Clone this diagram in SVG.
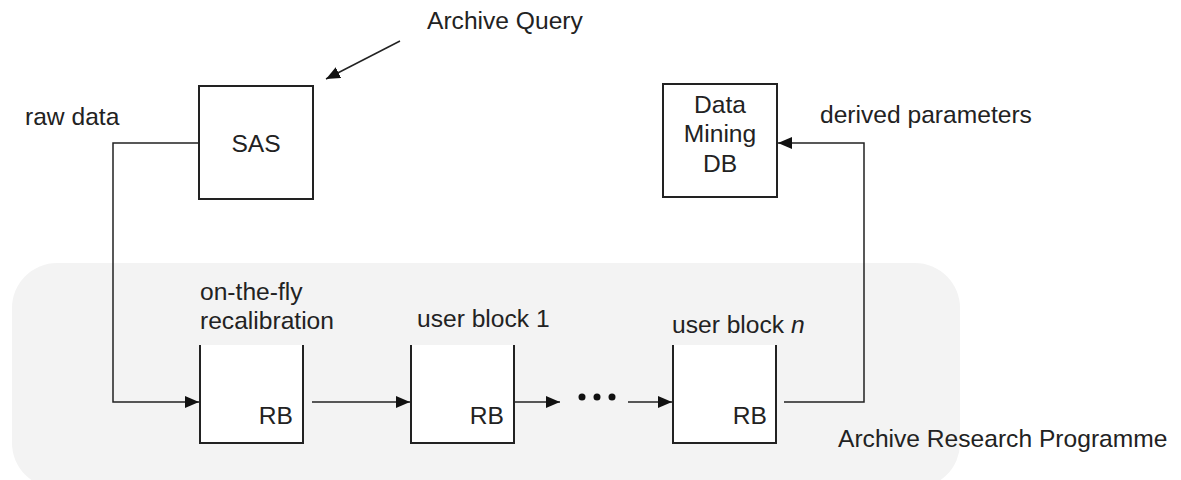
<svg xmlns="http://www.w3.org/2000/svg" width="1181" height="480" viewBox="0 0 1181 480">
<style>
  text { font-family: "Liberation Sans", Arial, sans-serif; font-size: 24.6px; fill: #222; }
  .box { fill: #fff; stroke: #222; stroke-width: 2; }
  .rb { fill: none; stroke: #222; stroke-width: 2; }
  .conn { fill: none; stroke: #222; stroke-width: 1.5; marker-end: url(#arrow); }
</style>
<defs>
  <marker id="arrow" markerUnits="userSpaceOnUse" markerWidth="14" markerHeight="12" refX="14" refY="6" orient="auto">
    <path d="M0,0 L14,6 L0,12 z" fill="#111"/>
  </marker>
</defs>
<g id="archive-research-programme">
  <rect x="12" y="263" width="948" height="225" rx="45" ry="45" fill="#f3f3f3"/>
  <text x="838" y="447">Archive Research Programme</text>
</g>
<g id="connectors">
  <path class="conn" d="M400,41 L326,79"/>
  <path class="conn" d="M199,143 H113 V402 H199"/>
  <path class="conn" d="M312,402 H410"/>
  <path class="conn" d="M514,402 H560"/>
  <path class="conn" d="M628,402 H672"/>
  <path class="conn" d="M784,402 H864 V143 H778"/>
</g>
<g id="labels">
  <text x="427" y="29">Archive Query</text>
  <text x="25" y="125">raw data</text>
  <text x="820" y="123">derived parameters</text>
</g>
<g id="sas">
  <rect class="box" x="199" y="86" width="114" height="113"/>
  <text x="256" y="152" text-anchor="middle">SAS</text>
</g>
<g id="data-mining-db">
  <rect class="box" x="663" y="84" width="114" height="113"/>
  <text x="720" y="113" text-anchor="middle">Data</text>
  <text x="720" y="142" text-anchor="middle">Mining</text>
  <text x="720" y="172" text-anchor="middle">DB</text>
</g>
<g id="rb1">
  <path d="M200,345 V443 H303 V345 z" fill="#fff" stroke="none"/>
  <path class="rb" d="M200,345 V443 H303 V345"/>
  <text x="200" y="300">on-the-fly</text>
  <text x="200" y="329">recalibration</text>
  <text x="293" y="424" text-anchor="end">RB</text>
</g>
<g id="rb2">
  <path d="M411,345 V443 H514 V345 z" fill="#fff" stroke="none"/>
  <path class="rb" d="M411,345 V443 H514 V345"/>
  <text x="417" y="327">user block 1</text>
  <text x="504" y="424" text-anchor="end">RB</text>
</g>
<g id="ellipsis">
  <circle cx="582" cy="397" r="3.5" fill="#111"/>
  <circle cx="597" cy="397" r="3.5" fill="#111"/>
  <circle cx="612" cy="397" r="3.5" fill="#111"/>
</g>
<g id="rbn">
  <path d="M673,345 V443 H776 V345 z" fill="#fff" stroke="none"/>
  <path class="rb" d="M673,345 V443 H776 V345"/>
  <text x="672" y="333">user block <tspan font-style="italic">n</tspan></text>
  <text x="767" y="424" text-anchor="end">RB</text>
</g>
</svg>
